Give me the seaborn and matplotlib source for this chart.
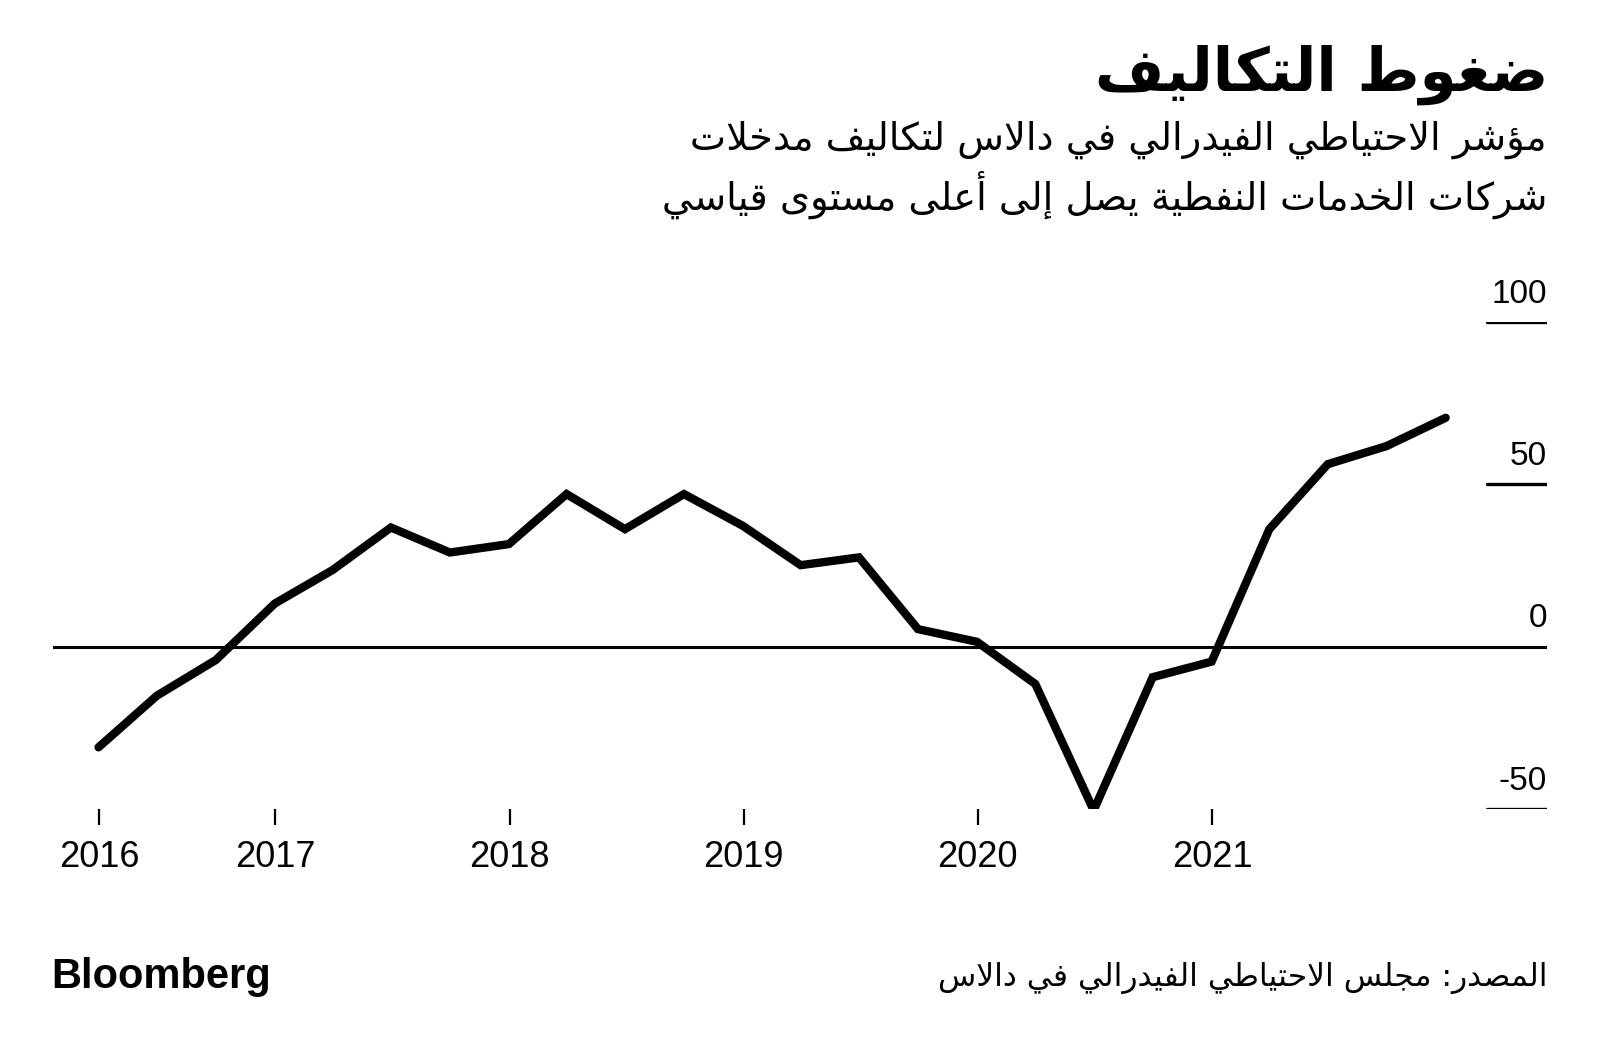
import pandas as pd
import numpy as np
import matplotlib
matplotlib.use("Agg")
import matplotlib.pyplot as plt
import seaborn as sns

# Dallas Fed index of input costs, oil & gas support services (quarterly)
quarters = pd.period_range("2016Q1", "2021Q4", freq="Q")
input_costs = [-31.0, -15.1, -4.1, 13.3, 23.6, 36.7, 29.0, 31.6,
               47.0, 36.2, 47.0, 37.2, 25.1, 27.5, 5.4, 1.5,
               -11.5, -50.4, -9.4, -4.6, 36.2, 56.2, 61.8, 70.5]

year_ticks = ["2016-04-01", "2017-01-01", "2018-01-01", "2019-01-01", "2020-01-01", "2021-01-01"]
year_labels = ["2016", "2017", "2018", "2019", "2020", "2021"]
y_ticks = [-50, 0, 50, 100]

title = "ضغوط التكاليف"
subtitle_1 = "مؤشر الاحتياطي الفيدرالي في دالاس لتكاليف مدخلات"
subtitle_2 = "شركات الخدمات النفطية يصل إلى أعلى مستوى قياسي"
source = "المصدر: مجلس الاحتياطي الفيدرالي في دالاس"


# --- minimal Arabic shaping (matplotlib has no complex text layout) ---
FORMS = {
    "ء": (0xFE80, 1), "آ": (0xFE81, 2), "أ": (0xFE83, 2), "ؤ": (0xFE85, 2),
    "إ": (0xFE87, 2), "ئ": (0xFE89, 4), "ا": (0xFE8D, 2), "ب": (0xFE8F, 4),
    "ة": (0xFE93, 2), "ت": (0xFE95, 4), "ث": (0xFE99, 4), "ج": (0xFE9D, 4),
    "ح": (0xFEA1, 4), "خ": (0xFEA5, 4), "د": (0xFEA9, 2), "ذ": (0xFEAB, 2),
    "ر": (0xFEAD, 2), "ز": (0xFEAF, 2), "س": (0xFEB1, 4), "ش": (0xFEB5, 4),
    "ص": (0xFEB9, 4), "ض": (0xFEBD, 4), "ط": (0xFEC1, 4), "ظ": (0xFEC5, 4),
    "ع": (0xFEC9, 4), "غ": (0xFECD, 4), "ف": (0xFED1, 4), "ق": (0xFED5, 4),
    "ك": (0xFED9, 4), "ل": (0xFEDD, 4), "م": (0xFEE1, 4), "ن": (0xFEE5, 4),
    "ه": (0xFEE9, 4), "و": (0xFEED, 2), "ى": (0xFEEF, 2), "ي": (0xFEF1, 4),
}
LAMALEF = {"آ": 0xFEF5, "أ": 0xFEF7, "إ": 0xFEF9, "ا": 0xFEFB}


def shape(text):
    def joins_next(c):
        return c in FORMS and FORMS[c][1] == 4

    out = []
    i, n = 0, len(text)
    while i < n:
        c = text[i]
        if c not in FORMS:
            out.append(c)
            i += 1
            continue
        prev_j = i > 0 and joins_next(text[i - 1])
        if c == "ل" and i + 1 < n and text[i + 1] in LAMALEF:
            out.append(chr(LAMALEF[text[i + 1]] + (1 if prev_j else 0)))
            i += 2
            continue
        nxt = text[i + 1] if i + 1 < n else ""
        next_j = nxt in FORMS and nxt != "ء"
        base, k = FORMS[c]
        if k == 4:
            f = 3 if (prev_j and next_j) else 2 if next_j else 1 if prev_j else 0
        elif k == 2:
            f = 1 if prev_j else 0
        else:
            f = 0
        out.append(chr(base + f))
        i += 1
    return "".join(reversed(out))


df = pd.DataFrame({"date": quarters.end_time.normalize(), "value": input_costs})

sns.set_theme(style="white")
plt.rcParams["font.family"] = ["Liberation Sans", "DejaVu Sans"]
plt.rcParams["text.color"] = "black"
plt.rcParams["xtick.color"] = "black"
plt.rcParams["xtick.labelcolor"] = "black"

W, H = 1600, 1058
fig = plt.figure(figsize=(W / 100, H / 100), dpi=100)
ax = fig.add_axes([53 / W, 1 - 809 / H, (1547 - 53) / W, (809 - 322) / H])

sns.lineplot(data=df, x="date", y="value", ax=ax, color="black", lw=6,
             solid_capstyle="round", solid_joinstyle="miter")

ax.set_xlim(pd.Timestamp("2016-01-20"), pd.Timestamp("2022-06-07"))
ax.set_ylim(-50, 100)
for s in ax.spines.values():
    s.set_visible(False)

ax.set_xticks(pd.to_datetime(year_ticks))
ax.set_xticklabels(year_labels, fontsize=26)
ax.tick_params(axis="x", direction="out", length=11.5, width=1.6, pad=11,
               bottom=True, colors="black")
ax.set_yticks([])
ax.set_xlabel("")
ax.set_ylabel("")

ax.axhline(0, color="black", lw=2.2, zorder=1)
for v in y_ticks:
    if v != 0:
        ax.axhline(v, xmin=0.96, xmax=1.0, color="black", lw=2.4)
    ax.annotate(str(v), xy=(1, v), xycoords=("axes fraction", "data"),
                xytext=(0, 14), textcoords="offset points",
                ha="right", va="baseline", fontsize=24, color="black")

fig.text(1548 / W, 1 - 91 / H, shape(title), ha="right", va="baseline",
         fontsize=43, fontweight="bold", family="DejaVu Sans", color="black")
fig.text(1547 / W, 1 - 150 / H, shape(subtitle_1), ha="right", va="baseline",
         fontsize=27.6, family="DejaVu Sans", color="black")
fig.text(1547 / W, 1 - 210 / H, shape(subtitle_2), ha="right", va="baseline",
         fontsize=27.6, family="DejaVu Sans", color="black")
fig.text(1547 / W, 1 - 986 / H, shape(source), ha="right", va="baseline",
         fontsize=22.6, family="DejaVu Sans", color="black")
fig.text(51 / W, 1 - 988 / H, "Bloomberg", ha="left", va="baseline",
         fontsize=30, fontweight="bold", color="black")

fig.savefig("out.png", dpi=100, facecolor="white")
